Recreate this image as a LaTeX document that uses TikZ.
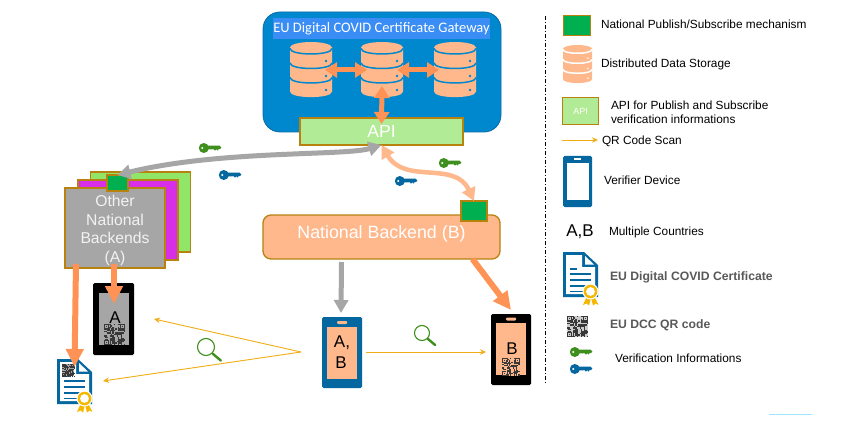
\documentclass[tikz,border=0pt]{standalone}
\usepackage{fontspec}
\setmainfont{Liberation Sans}
\newfontfamily\calibrifont{Carlito}
\usetikzlibrary{arrows.meta}
\definecolor{peach}{HTML}{FFB88C}
\definecolor{orangeA}{HTML}{FF9355}
\definecolor{greyA}{HTML}{A6A6A6}
\definecolor{gwblue}{HTML}{0088CE}
\definecolor{gwedge}{HTML}{0A6AA6}
\definecolor{titleblue}{HTML}{3A8DF5}
\definecolor{gold}{HTML}{B8820F}
\definecolor{pubgreen}{HTML}{00B050}
\definecolor{apigreen}{HTML}{B2EB95}
\definecolor{backgreen}{HTML}{92E667}
\definecolor{backmag}{HTML}{D92EE8}
\definecolor{devblue}{HTML}{05679F}
\definecolor{scan}{HTML}{F0AD14}
\definecolor{keygreen}{HTML}{3F8F1F}
\definecolor{ribbon}{HTML}{F5B800}
\definecolor{certgrey}{HTML}{595959}
\newcommand\fs[1]{\fontsize{#1}{#1}\selectfont}
\tikzset{
  boxbase/.style={inner sep=0pt,outer sep=0pt,draw=gold,line width=1.3pt},
  pubbox/.style={boxbase,fill=pubgreen,minimum width=21pt,minimum height=16pt},
  stackbox/.style={boxbase,minimum width=100pt,minimum height=80pt},
  legtext/.style={anchor=west,inner sep=0pt,outer sep=0pt,text=black,font=\fs{11.85}},
  certtext/.style={anchor=west,inner sep=0pt,outer sep=0pt,text=certgrey,font=\fs{12.2}\bfseries},
  phonebody/.style={inner sep=0pt,outer sep=0pt,rounded corners=1.5pt,minimum width=40pt,minimum height=71pt},
  screen/.style={inner sep=0pt,outer sep=0pt,minimum width=30pt,minimum height=52pt},
  spot/.style={inner sep=0pt,outer sep=0pt,minimum width=1pt,minimum height=1pt},
  bigarrow/.style={line width=6pt,draw=orangeA,-{Triangle[width=17pt,length=18pt]}},
  greyarrow/.style={line width=5pt,draw=greyA,-{Triangle[width=14pt,length=13pt]}},
  dbarrow/.style={line width=5pt,draw=orangeA,{Triangle[width=15pt,length=12pt]}-{Triangle[width=15pt,length=12pt]}},
  scanarrow/.style={line width=.9pt,draw=scan,-{Stealth[width=5.5pt,length=6pt]}},
  phonetext/.style={inner sep=0pt,outer sep=0pt,text=black,font=\fs{17}},
  pics/dbicon/.style={code={
    \fill[peach] (-21,5.5) -- (-21,49.5) .. controls (-21,57) and (21,57) .. (21,49.5) -- (21,5.5) -- cycle;
    \fill[peach] (0,5.5) ellipse [x radius=21,y radius=5.5];
    \foreach \yy in {6.5,21,35.5}{
      \draw[#1,line width=1.5pt] (-21,\yy) .. controls (-21,\yy+7.3) and (21,\yy+7.3) .. (21,\yy);
    }
    \foreach \yy in {19,34,48}{\fill[#1] (15,\yy) circle (1.3);}
  }},
  pics/keyicon/.style={code={
    \fill[#1] (4.8,0) circle (5);
    \fill[#1] (6,-2.3) -- (20.5,-2.3) -- (22.3,-0.5) -- (21,1.2) -- (19.5,1.2) -- (18.8,2.6) -- (17.3,1.2) -- (16,2.6) -- (14.5,1.2) -- (6,1.7) -- cycle;
    \fill[white] (3.2,0) circle (1.2);
  }},
  pics/lens/.style={code={
    \draw[keygreen,line width=1.1pt] (0,0) circle (#1);
    \draw[keygreen,line width=2.4pt,line cap=round] ({#1*0.8},{#1*0.8}) -- ({#1*1.75},{#1*1.6});
  }},
  pics/qrcode/.style={code={
    \fill[#1] (0,0) rectangle (20,20);
    \pgfmathsetseed{4711}
    \foreach \i in {0,...,14}{\foreach \j in {0,...,14}{
      \pgfmathtruncatemacro\v{rnd<0.58?1:0}
      \ifnum\v=1 \fill[black!78] ({\i*1.333},{\j*1.333}) rectangle ++(1.333,1.333);\fi
    }}
    \foreach \cx/\cy in {0/0,15/0,0/15}{
      \fill[black!78] (\cx,\cy) rectangle ++(5,5);
      \fill[#1] (\cx+1,\cy+1) rectangle ++(3,3);
      \fill[black!78] (\cx+2,\cy+2) rectangle ++(1,1);
    }
  }},
  pics/certdoc/.style={code={
    \fill[devblue] (0,0) -- (21,0) -- (35,13) -- (35,45) -- (0,45) -- cycle;
    \fill[white] (3,3) -- (19,3) -- (19,15) -- (32,15) -- (32,42) -- (3,42) -- cycle;
    \fill[white] (22,4) -- (31,12.5) -- (22,12.5) -- cycle;
    \fill[devblue] (7,16) rectangle (14,17.5);
    \foreach \yy in {21,27,33,38.5}{\fill[devblue] (7,\yy) rectangle (28,\yy+1.5);}
    \fill[ribbon] (24,44) -- (20,53) -- (23.5,51.5) -- (26,53.5) -- (28,46) -- (30,53.5) -- (32.5,51.5) -- (35.5,53) -- (31,44) -- cycle;
    \fill[white] (27.5,39.5) circle (8);
    \fill[ribbon] (27.5,39.5) circle (6.8);
    \fill[white] (27.5,39.5) circle (4.4);
  }},
}
\begin{document}
\begin{tikzpicture}[x=1pt,y=-1pt]
\useasboundingbox (0,0) rectangle (858,422);
\fill[white] (0,0) rectangle (858,422);

% Gateway
\node[inner sep=0pt,outer sep=0pt,fill=gwblue,draw=gwedge,line width=.8pt,rounded corners=17pt,minimum width=238pt,minimum height=120pt] (gateway) at (382,72) {};
\node[inner sep=0pt,outer sep=0pt,fill=titleblue,text=white,minimum width=217pt,minimum height=21pt,font=\calibrifont\fs{14.5}] (gwtitle) at (381.5,28.5) {EU Digital COVID Certificate Gateway};
\node[spot,minimum width=42pt,minimum height=56pt] (db1) at (311,70) {};
\node[spot,minimum width=42pt,minimum height=56pt] (db2) at (382,70) {};
\node[spot,minimum width=42pt,minimum height=56pt] (db3) at (455,70) {};
\pic at (311,42) {dbicon=gwblue};
\pic at (382,42) {dbicon=gwblue};
\pic at (455,42) {dbicon=gwblue};
\node[boxbase,fill=apigreen,text=white,minimum width=163pt,minimum height=27pt,font=\fs{17.6}] (api) at (381.5,131.5) {API};
\draw[dbarrow] ([xshift=-7pt]db1.east) -- ([xshift=6pt]db2.west);
\draw[dbarrow] ([xshift=-6pt]db2.east) -- ([xshift=5pt]db3.west);
\draw[dbarrow] ([yshift=12pt]db2.south) -- ([yshift=-6pt]api.north);

% Other national backends
\node[stackbox,fill=backgreen] (backC) at (140.5,212) {};
\node[stackbox,fill=backmag] (backB) at (128,220) {};
\node[stackbox,fill=greyA] (backA) at (115,228) {};
\node[inner sep=0pt,outer sep=0pt,text=white!95!black,align=center,font=\fontsize{15.7}{18.7}\selectfont] (backAtext) at (115,230.5) {Other\\National\\Backends\\(A)};
\node[pubbox] (pubA) at (117.5,183) {};

% National backend
\node[boxbase,fill=peach,rounded corners=8pt,minimum width=237pt,minimum height=44pt] (backendB) at (381.5,237) {};
\node[inner sep=0pt,text=white,font=\fs{17.8}] (backendBtext) at (381.5,234) {National Backend (B)};
\node[pubbox,minimum width=26pt,minimum height=20pt] (pubB) at (474,211) {};

% Exchange arrows
\draw[line width=5pt,draw=greyA,{Triangle[width=14pt,length=13pt]}-{Triangle[width=14pt,length=13pt]}]
  (api.south) .. controls (345,156) and (220,150) .. (pubA.north);
\draw[line width=4.5pt,draw=peach,{Triangle[width=14pt,length=13pt]}-{Triangle[width=14pt,length=13pt]}]
  (api.south) .. controls (405,185) and (455,160) .. (pubB.north);

% Keys
\pic at (199,148) {keyicon=keygreen};
\pic at (219,175) {keyicon=devblue};
\pic at (439,163) {keyicon=keygreen};
\pic at (395,181) {keyicon=devblue};

% Phone A
\node[phonebody,fill=black,minimum width=41pt,minimum height=72pt] (phoneA) at (113.5,319) {};
\node[screen,fill=greyA] (screenA) at (114,319) {};
\node[phonetext] (labelA) at (115,318) {A};
\pic[scale=1.05] at (104,324) {qrcode=greyA};

% Phone AB
\node[phonebody,fill=devblue] (phoneAB) at (342,352.5) {};
\node[screen,fill=peach] (screenAB) at (342,353) {};
\node[inner sep=0pt,outer sep=0pt,fill=peach,rounded corners=1pt,minimum width=10pt,minimum height=3pt] (camAB) at (342,322.5) {};
\node[phonetext] (labelAB) at (342,343) {A,};
\node[phonetext] (labelABb) at (341,363) {B};

% Phone B
\node[phonebody,fill=black] (phoneB) at (511,349.5) {};
\node[screen,fill=peach] (screenB) at (511,349) {};
\node[inner sep=0pt,outer sep=0pt,fill=peach,rounded corners=1pt,minimum width=10pt,minimum height=3pt] (camB) at (511,319) {};
\node[phonetext] (labelB) at (512,349) {B};
\pic[scale=.88] at (502,358) {qrcode=peach};

% Certificate
\pic at (57,359) {certdoc};
\pic[scale=.62] at (62,364) {qrcode=greyA};
\node[spot,minimum width=35pt,minimum height=45pt] (certA) at (74.5,381.5) {};

% Delivery arrows
\draw[bigarrow] ([xshift=-39pt,yshift=4pt]backA.south) -- ([yshift=-8pt]certA.north);
\draw[bigarrow] ([yshift=4pt,xshift=-1pt]backA.south) -- ([xshift=.5pt,yshift=-21pt]phoneA.north);
\draw[greyarrow] ([yshift=-3pt,xshift=-40pt]backendB.south) -- ([yshift=4pt,xshift=-1pt]phoneAB.north);
\draw[bigarrow] ([xshift=91pt]backendB.south) -- ([yshift=4pt]phoneB.north);

% QR scans
\coordinate (scanFrom) at (301,352);
\coordinate (scanToPhone) at (154,319);
\coordinate (scanToCert) at (103,381);
\draw[scanarrow] (scanFrom) -- (scanToPhone);
\draw[scanarrow] (scanFrom) -- (scanToCert);
\draw[scanarrow] ([xshift=4pt,yshift=.5pt]phoneAB.east) -- ([xshift=-5pt,yshift=-2.5pt]phoneB.west);
\pic at (206,347) {lens=8.5};
\pic at (422,333) {lens=7.5};

% Separator
\coordinate (sepTop) at (545,16);
\coordinate (sepBottom) at (545,384);
\draw[black,line width=.8pt,dash pattern=on 4pt off 2pt on 1pt off 2pt] (sepTop) -- (sepBottom);

% Legend
\node[pubbox,minimum width=27pt,minimum height=20pt] (legPub) at (577,25.5) {};
\node[legtext] (legPubT) at (601,24) {National Publish/Subscribe mechanism};
\pic[scale=.69] at (577.5,45) {dbicon=white};
\node[legtext] (legDbT) at (601,64) {Distributed Data Storage};
\node[boxbase,fill=apigreen,text=white,minimum width=36pt,minimum height=27pt,font=\fs{9}] (legApi) at (580.5,111) {API};
\node[legtext,align=left,anchor=north west,font=\fontsize{11.85}{14.4}\selectfont] (legApiT) at (611,100.5) {API for Publish and Subscribe\\verification informations};
\coordinate (legScanA) at (562,140);
\coordinate (legScanB) at (598,140);
\draw[scanarrow] (legScanA) -- (legScanB);
\node[legtext] (legScanT) at (602,141) {QR Code Scan};
\node[phonebody,fill=devblue,minimum width=29pt,minimum height=51pt] (legPhone) at (577.5,181.5) {};
\node[screen,fill=white,minimum width=22pt,minimum height=37pt] (legScreen) at (578,181.5) {};
\node[inner sep=0pt,outer sep=0pt,fill=white,minimum width=7pt,minimum height=2pt] (legCam) at (577.5,159) {};
\node[legtext] (legPhoneT) at (604,180) {Verifier Device};
\node[phonetext] (legAB) at (580,232) {A,B};
\node[legtext] (legABT) at (609,232) {Multiple Countries};
\pic at (563,252) {certdoc};
\node[certtext] (legCertT) at (610,277) {EU Digital COVID Certificate};
\pic[scale=1.05] at (567,316) {qrcode=white!80!black};
\node[certtext] (legQrT) at (610,325) {EU DCC QR code};
\pic at (570,352) {keyicon=keygreen};
\pic at (570,369) {keyicon=devblue};
\node[legtext] (legKeyT) at (615,358) {Verification Informations};

\coordinate (cyanA) at (769,414);
\coordinate (cyanB) at (812,414);
\draw[color={rgb,255:red,158;green,230;blue,255},line width=.8pt] (cyanA) -- (cyanB);
\end{tikzpicture}
\end{document}
